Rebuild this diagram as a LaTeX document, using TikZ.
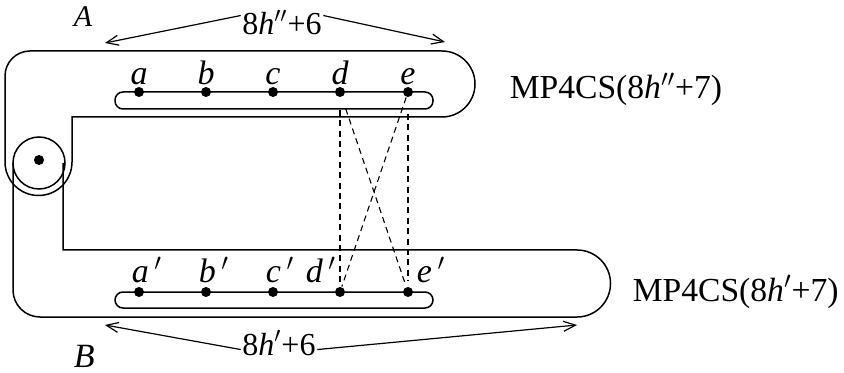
\documentclass[tikz,border=0pt]{standalone}
\usepackage{fontspec}
\setmainfont{Liberation Serif}
\usetikzlibrary{arrows.meta}
\tikzset{
  dot/.style={circle, fill, inner sep=0pt, minimum size=5pt},
  letter/.style={font=\fontsize{17}{19}\selectfont\itshape, inner sep=0pt},
  tag/.style={inner sep=0.5pt},
  link/.style={dashed, dash pattern=on 3pt off 2.2pt, line width=0.55pt},
  span/.style={-{Straight Barb[length=6pt,width=5pt]}, line width=0.6pt}
}
\begin{document}
\begin{tikzpicture}[x=0.5pt, y=-0.5pt, line width=0.75pt, font=\fontsize{16}{19}\selectfont]
    \useasboundingbox (0,0) rectangle (844,373);
    \draw (72,162) -- (72,117) -- (442,117) arc[start angle=90, end angle=-90, radius=33]
      -- (30,51) arc[start angle=-90, end angle=-180, radius=25] -- (5,162)
      arc[start angle=180, end angle=0, radius=33.5] -- cycle;
    \draw (63,163) -- (63,250) -- (577,250) arc[start angle=-90, end angle=90, radius=33.5]
      -- (40,317) arc[start angle=90, end angle=180, radius=27] -- (13,163);
    \node[circle, draw, minimum size=26pt, inner sep=0pt] (hinge) at (39,163) {};
    \node[dot, minimum size=5pt] (pin) at (39,160) {};
    \draw[rounded corners=4pt] (115,92) rectangle (433,109);
    \draw[rounded corners=4pt] (115,292) rectangle (433,308);
    \foreach \n/\x in {a/139,b/206,c/273,d/340,e/408} {
      \node[dot] (\n) at (\x,92) {};
      \node[dot] (\n2) at (\x,292) {};
      \node[letter, anchor=base] (l\n) at (\x,85) {\n};
    }
    \foreach \n/\x in {a/131,b/198,c/265,d/305,e/416}
      \node[letter, anchor=base west] (l\n2) at (\x,283) {\n\,$'$};
    \draw[link, shorten <=6pt] (d) -- (d2);
    \draw[link, shorten <=8pt, shorten >=2.5pt] (e) -- (e2);
    \draw[link, shorten <=6pt, shorten >=2.5pt] (d) -- (e2);
    \draw[link] (e) -- (d2);
    \node[tag, anchor=base] (wa) at (282,35) {8\textit{h}$''$+6};
    \node[tag, anchor=base] (wb) at (279,355) {8\textit{h}$'$+6};
    \coordinate (wal) at (105,43);
    \coordinate (war) at (445,42);
    \coordinate (wbl) at (105,325);
    \coordinate (wbr) at (577,325);
    \draw[span] (wa.170) -- (wal);
    \draw[span] (wa.10) -- (war);
    \draw[span] (wb.190) -- (wbl);
    \draw[span] (wb.-10) -- (wbr);
    \node[tag, anchor=base west, font=\fontsize{15}{17}\selectfont\itshape] (na) at (72,27) {A};
    \node[tag, anchor=base west, font=\fontsize{17}{19}\selectfont\itshape] (nb) at (72,367) {B};
    \node[tag, anchor=base west, font=\fontsize{16.8}{20}\selectfont] (ma) at (508,99) {MP4CS(8\textit{h}$''$+7)};
    \node[tag, anchor=base west, font=\fontsize{16.8}{20}\selectfont] (mb) at (631,301) {MP4CS(8\textit{h}$'$+7)};
  \end{tikzpicture}
\end{document}
